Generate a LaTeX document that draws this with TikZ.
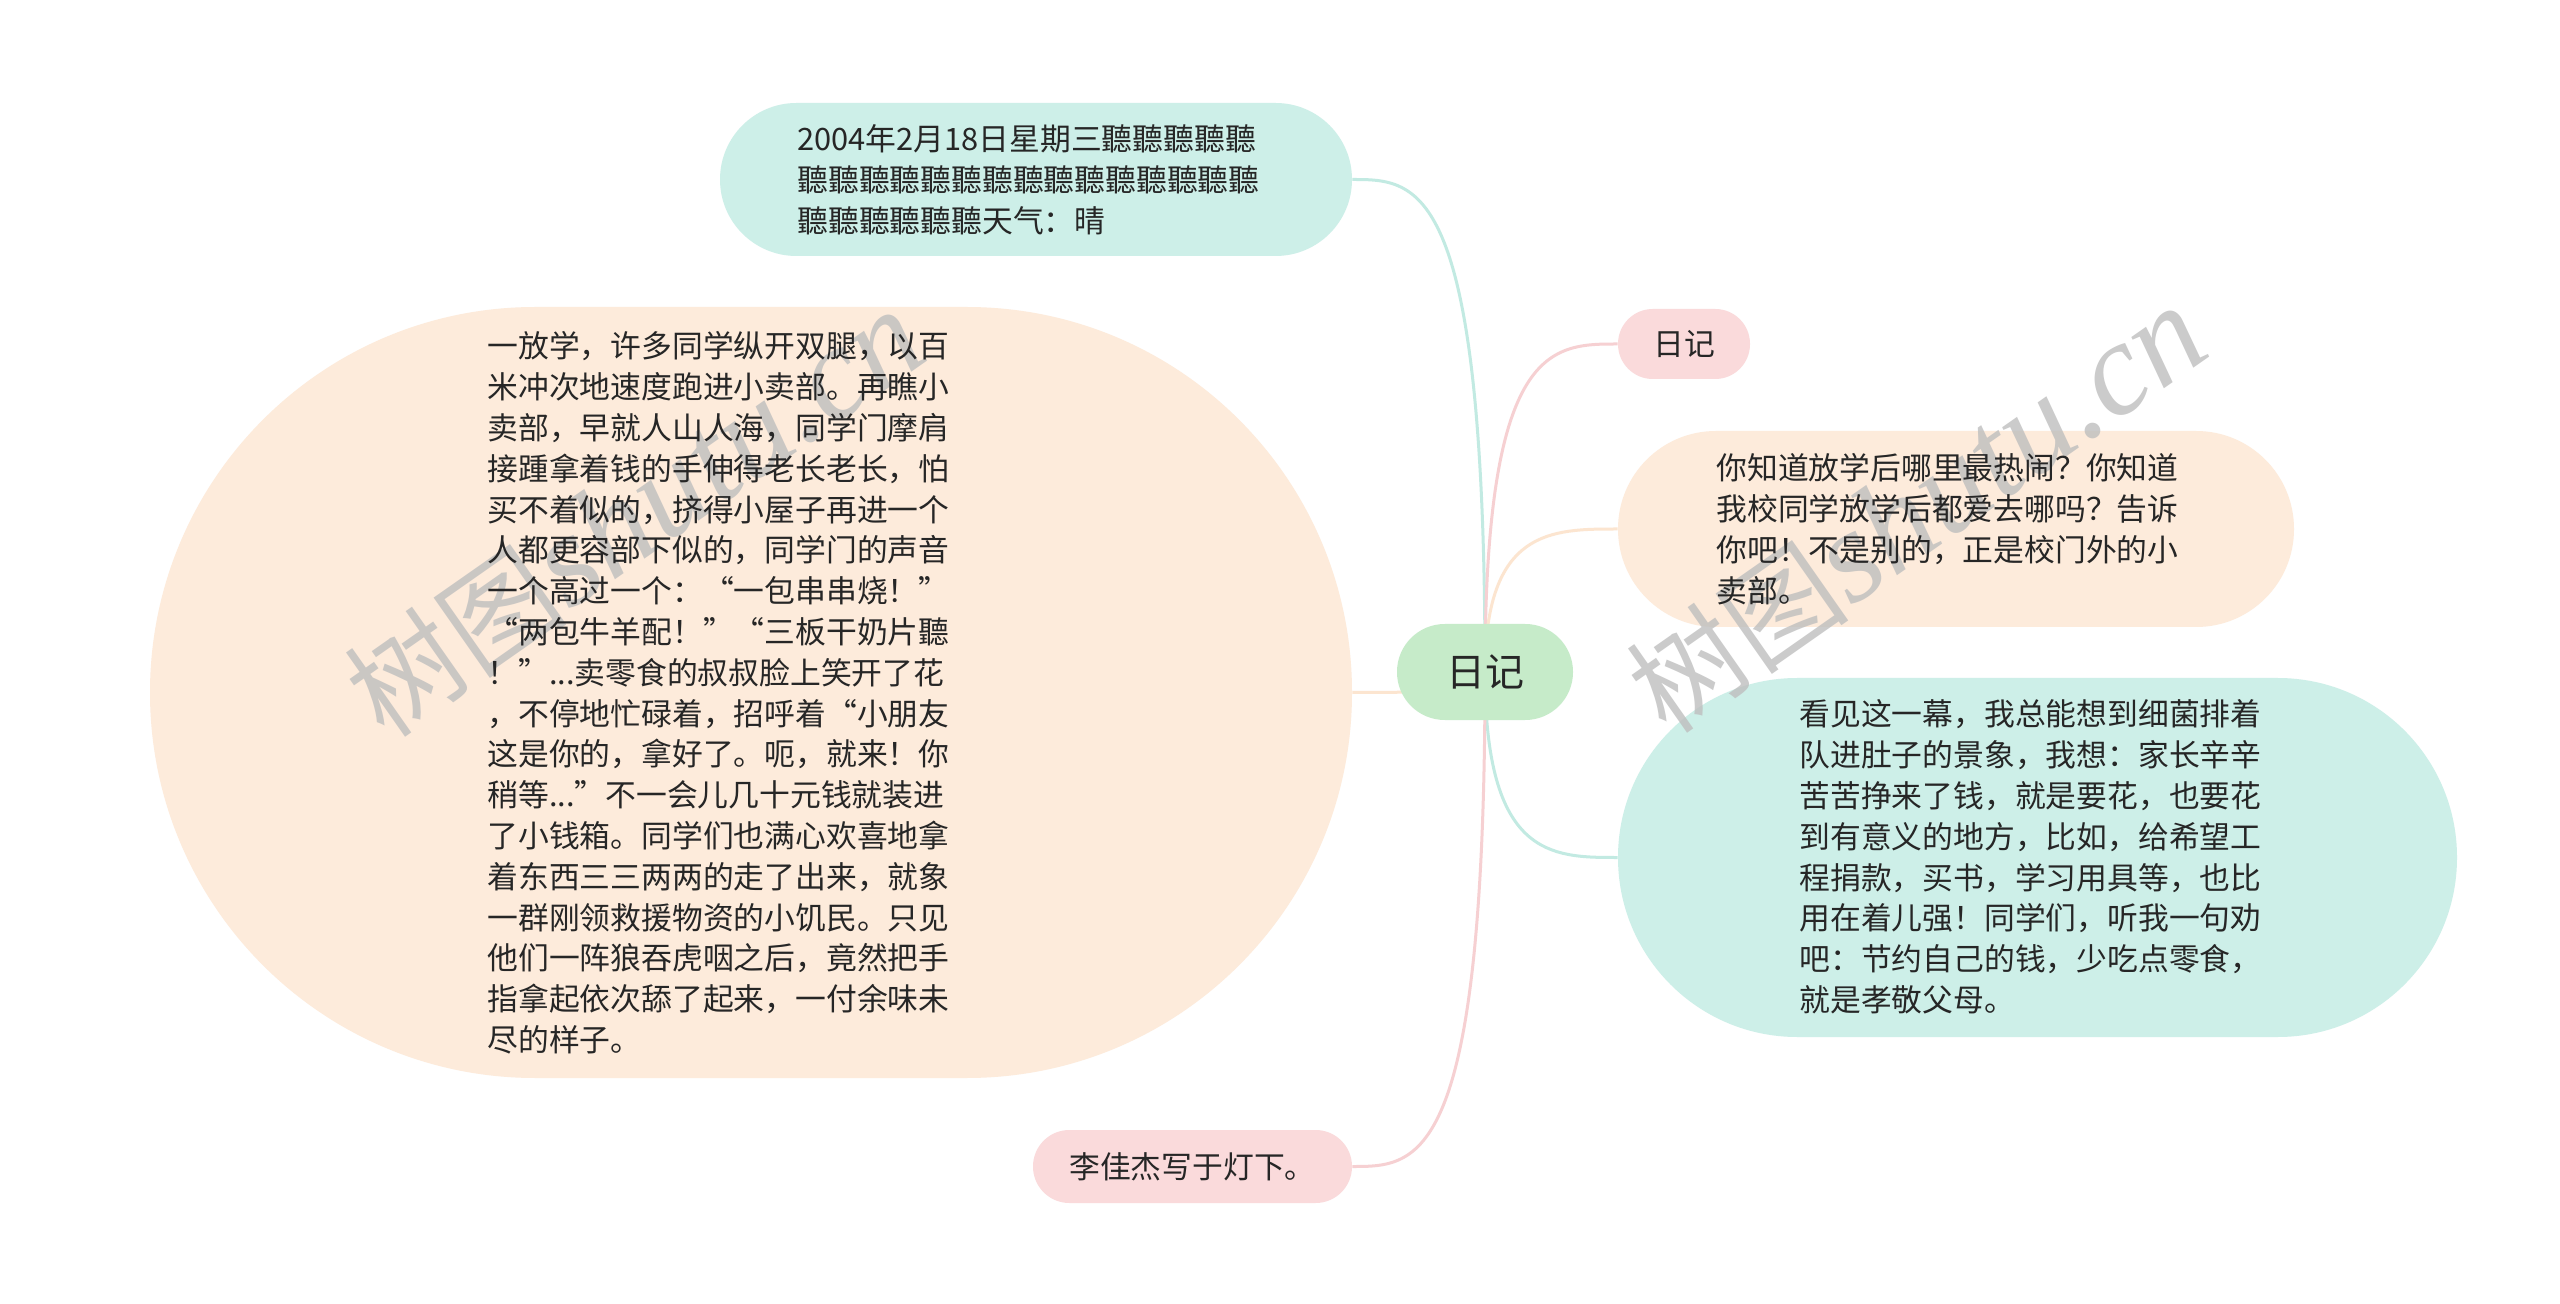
\documentclass[tikz,border=0pt]{standalone}
\usepackage{fontspec}
\setmainfont{Noto Sans CJK SC}
\newfontfamily\wmlatin{Liberation Serif}
\usetikzlibrary{calc,backgrounds}
\definecolor{rootfill}{HTML}{C6EBC9}
\definecolor{tealfill}{HTML}{CDEFE8}
\definecolor{peachfill}{HTML}{FDEBDB}
\definecolor{pinkfill}{HTML}{FADADB}
\definecolor{tealline}{HTML}{C2EAE2}
\definecolor{pinkline}{HTML}{F6D0D2}
\definecolor{peachline}{HTML}{FCE5D0}
\definecolor{txtc}{HTML}{262626}
\definecolor{wmc}{HTML}{BEBEBE}
\begin{document}
\begin{tikzpicture}[x=0.5pt,y=-0.5pt,
  box/.style={rectangle, draw=none, inner sep=0pt},
  txt/.style={text=txtc, align=left, inner sep=0pt, font=\fontsize{15.4pt}{20.4pt}\selectfont},
  conn/.style={line width=1.5pt},
  wmark/.style={text=wmc, opacity=0.8, inner sep=0pt, rotate=35}]
\useasboundingbox (0,0) rectangle (2560,1304);
% boxes
\node[box, fill=rootfill, minimum width=88pt, minimum height=48pt, rounded corners=23.9pt] (root) at (1485,672) {};
\node[box, fill=tealfill, minimum width=316pt, minimum height=76.5pt, rounded corners=38.2pt] (top) at (1036,179.5) {};
\node[box, fill=peachfill, minimum width=601pt, minimum height=385.5pt, rounded corners=192.6pt] (left) at (751,692.5) {};
\node[box, fill=pinkfill, minimum width=66pt, minimum height=35pt, rounded corners=17.4pt] (diary) at (1684,344) {};
\node[box, fill=peachfill, minimum width=338pt, minimum height=98pt, rounded corners=48.9pt] (rpeach) at (1956,529) {};
\node[box, fill=tealfill, minimum width=419.5pt, minimum height=179.5pt, rounded corners=89.6pt] (rteal) at (2037.5,857.5) {};
\node[box, fill=pinkfill, minimum width=159.5pt, minimum height=36.5pt, rounded corners=18.2pt] (bottom) at (1192.5,1166.5) {};
% watermarks
\node[wmark] (wm1) at (635,514) {\fontsize{56pt}{60pt}\selectfont 树图\wmlatin\itshape\fontsize{66pt}{70pt}\selectfont shutu.cn};
\node[wmark] (wm2) at (1917,510) {\fontsize{56pt}{60pt}\selectfont 树图\wmlatin\itshape\fontsize{66pt}{70pt}\selectfont shutu.cn};
% texts
\node[txt, font=\fontsize{19.5pt}{24pt}\selectfont] (troot) at (root.center) {日记};
\node[txt, anchor=west] (ttop) at (797,180) {2004年2月18日星期三聽聽聽聽聽\\%
聽聽聽聽聽聽聽聽聽聽聽聽聽聽聽\\%
聽聽聽聽聽聽天气：晴};
\node[txt, anchor=west] (tleft) at (487,693) {一放学，许多同学纵开双腿，以百\\%
米冲次地速度跑进小卖部。再瞧小\\%
卖部，早就人山人海，同学门摩肩\\%
接踵拿着钱的手伸得老长老长，怕\\%
买不着似的，挤得小屋子再进一个\\%
人都更容部下似的，同学门的声音\\%
一个高过一个：“一包串串烧！”\\%
“两包牛羊配！”“三板干奶片聽\\%
！”...卖零食的叔叔脸上笑开了花\\%
，不停地忙碌着，招呼着“小朋友\\%
这是你的，拿好了。呃，就来！你\\%
稍等...”不一会儿几十元钱就装进\\%
了小钱箱。同学们也满心欢喜地拿\\%
着东西三三两两的走了出来，就象\\%
一群刚领救援物资的小饥民。只见\\%
他们一阵狼吞虎咽之后，竟然把手\\%
指拿起依次舔了起来，一付余味未\\%
尽的样子。};
\node[txt] (tdiary) at (diary.center) {日记};
\node[txt, anchor=west] (trpeach) at (1716,529) {你知道放学后哪里最热闹？你知道\\%
我校同学放学后都爱去哪吗？告诉\\%
你吧！不是别的，正是校门外的小\\%
卖部。};
\node[txt, anchor=west] (trteal) at (1799,857) {看见这一幕，我总能想到细菌排着\\%
队进肚子的景象，我想：家长辛辛\\%
苦苦挣来了钱，就是要花，也要花\\%
到有意义的地方，比如，给希望工\\%
程捐款，买书，学习用具等，也比\\%
用在着儿强！同学们，听我一句劝\\%
吧：节约自己的钱，少吃点零食，\\%
就是孝敬父母。};
\node[txt] (tbottom) at (bottom.center) {李佳杰写于灯下。};
% connectors
\begin{pgfonlayer}{background}
\fill[white] (0,0) rectangle (2560,1304);
\draw[conn, tealline] (root.center) .. controls (root.center |- top.east) and ($(root.center |- top.east)!0.5!(top.east)$) .. (top.east);
\draw[conn, peachline] (root.center) .. controls (root.center |- left.east) and ($(root.center |- left.east)!0.5!(left.east)$) .. (left.east);
\draw[conn, pinkline] (root.center) .. controls (root.center |- diary.west) and ($(root.center |- diary.west)!0.5!(diary.west)$) .. (diary.west);
\draw[conn, peachline] (root.center) .. controls (root.center |- rpeach.west) and ($(root.center |- rpeach.west)!0.5!(rpeach.west)$) .. (rpeach.west);
\draw[conn, tealline] (root.center) .. controls (root.center |- rteal.west) and ($(root.center |- rteal.west)!0.5!(rteal.west)$) .. (rteal.west);
\draw[conn, pinkline] (root.center) .. controls (root.center |- bottom.east) and ($(root.center |- bottom.east)!0.5!(bottom.east)$) .. (bottom.east);
\end{pgfonlayer}
\end{tikzpicture}
\end{document}
